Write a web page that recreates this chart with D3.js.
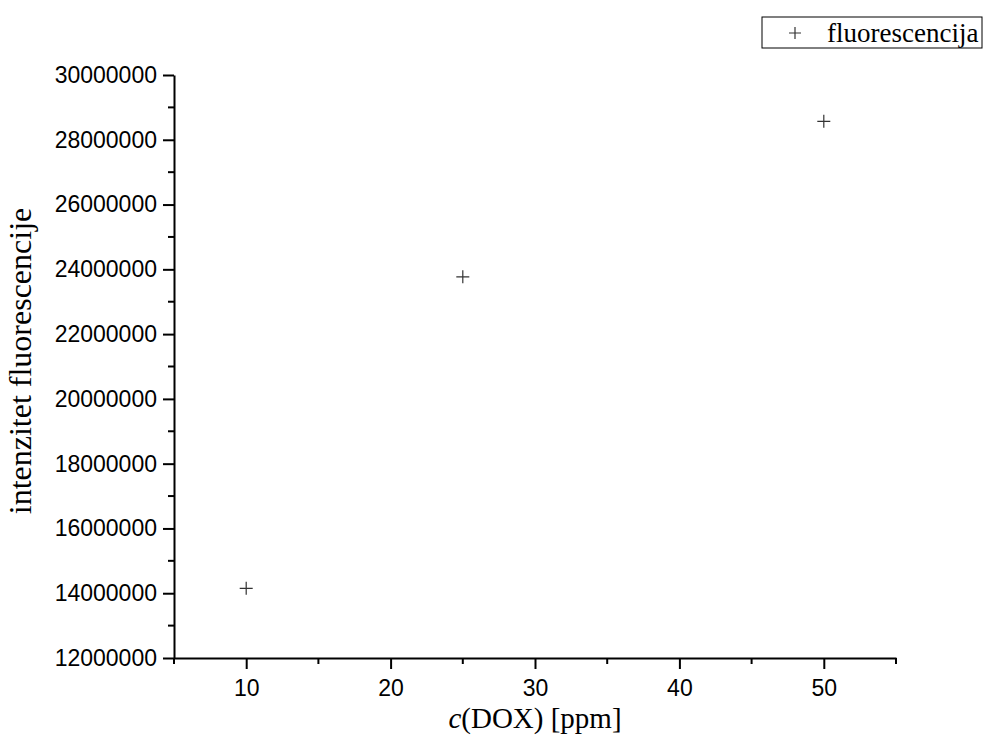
<!DOCTYPE html>
<html>
<head>
<meta charset="utf-8">
<script src="https://cdn.jsdelivr.net/npm/d3@7"></script>
<style>
  body { margin: 0; background: #fff; }
  svg { display: block; }
</style>
</head>
<body>
<svg id="chart"></svg>
<script>
// data
const concentration = [10, 25, 50];
const intensity = [14150000, 23770000, 28570000];
const seriesName = 'fluorescencija';
const xTicks = [10, 20, 30, 40, 50];
const yTicks = [12000000, 14000000, 16000000, 18000000, 20000000, 22000000, 24000000, 26000000, 28000000, 30000000];

const width = 986;
const height = 751;
const plotLeft = 174, plotRight = 896, plotTop = 75, plotBottom = 658;

const svg = d3.select('#chart')
    .attr('width', width)
    .attr('height', height);

const x = d3.scaleLinear().domain([5, 55]).range([plotLeft, plotRight]);
const y = d3.scaleLinear().domain([12000000, 30000000]).range([plotBottom, plotTop]);

// minor ticks
const xMinor = d3.range(5, 56, 5).filter(v => !xTicks.includes(v));
const yMinor = d3.range(13000000, 30000000, 2000000);

// x axis
const xAxis = svg.append('g')
    .attr('transform', `translate(0,${plotBottom})`)
    .call(d3.axisBottom(x).tickValues(xTicks).tickSize(11).tickSizeOuter(0).tickFormat(d3.format('d')));
xAxis.append('g').selectAll('line')
    .data(xMinor)
    .enter()
    .append('line')
    .attr('x1', d => x(d)).attr('x2', d => x(d))
    .attr('y1', 0).attr('y2', 6)
    .attr('stroke', '#000')
    .attr('stroke-width', 2);

// y axis
const yAxis = svg.append('g')
    .attr('transform', `translate(${plotLeft},0)`)
    .call(d3.axisLeft(y).tickValues(yTicks).tickSize(11).tickSizeOuter(0).tickFormat(d3.format('d')));
yAxis.append('g').selectAll('line')
    .data(yMinor)
    .enter()
    .append('line')
    .attr('y1', d => y(d)).attr('y2', d => y(d))
    .attr('x1', 0).attr('x2', -6)
    .attr('stroke', '#000')
    .attr('stroke-width', 2);

[xAxis, yAxis].forEach(a => {
    a.select('.domain').attr('stroke-width', 2);
    a.selectAll('.tick line').attr('stroke-width', 2);
    a.selectAll('.tick text')
        .style('font-family', 'Liberation Sans, Arial, sans-serif')
        .style('font-size', '23px')
        .attr('fill', '#000');
});
xAxis.selectAll('.tick text').attr('y', 17).attr('dy', '0.9em');
yAxis.selectAll('.tick text').attr('x', -17);

// markers
svg.append('g').selectAll('path')
    .data(concentration.map((c, i) => ({ c, v: intensity[i] })))
    .enter()
    .append('path')
    .attr('d', 'M-6.5,0H6.5M0,-6.5V6.5')
    .attr('transform', d => `translate(${x(d.c)},${y(d.v)})`)
    .attr('stroke', '#333')
    .attr('stroke-width', 1.2)
    .attr('fill', 'none');

// axis titles
svg.append('text')
    .attr('x', (plotLeft + plotRight) / 2)
    .attr('y', 728)
    .attr('text-anchor', 'middle')
    .style('font-family', 'Liberation Serif, Times New Roman, serif')
    .style('font-size', '29px')
    .html('<tspan font-style="italic">c</tspan>(DOX) [ppm]');

svg.append('text')
    .attr('transform', `translate(31,361) rotate(-90)`)
    .attr('text-anchor', 'middle')
    .style('font-family', 'Liberation Serif, Times New Roman, serif')
    .style('font-size', '32px')
    .text('intenzitet fluorescencije');

// legend
const legend = svg.append('g').attr('transform', 'translate(762,17)');
legend.append('rect')
    .attr('width', 220)
    .attr('height', 31)
    .attr('fill', '#fff')
    .attr('stroke', '#000')
    .attr('stroke-width', 1);
legend.append('path')
    .attr('d', 'M-6,0H6M0,-6V6')
    .attr('transform', 'translate(33,16)')
    .attr('stroke', '#333')
    .attr('stroke-width', 1.2);
legend.append('text')
    .attr('x', 65)
    .attr('y', 25)
    .style('font-family', 'Liberation Serif, Times New Roman, serif')
    .style('font-size', '27px')
    .text(seriesName);
</script>
</body>
</html>
